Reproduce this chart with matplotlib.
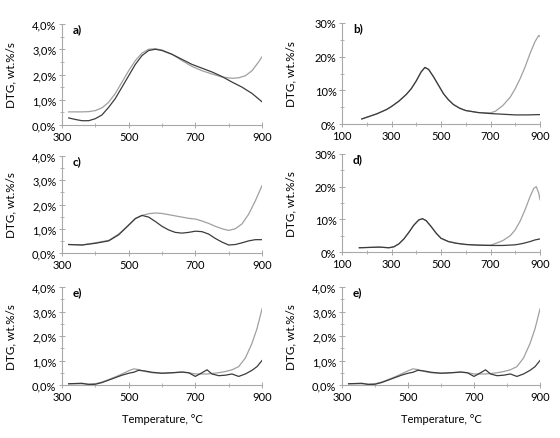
import matplotlib

matplotlib.use("Agg")
import matplotlib.pyplot as plt
from matplotlib.ticker import FixedLocator, FuncFormatter, MultipleLocator

# panel a)
A_T_DARK = [320, 340, 360, 380, 400, 420, 440, 460, 480, 500, 520, 540, 560, 580, 600,
            630, 660, 690, 720, 750, 780, 810, 840, 870, 900]
A_DARK = [0.28, 0.22, 0.17, 0.17, 0.25, 0.4, 0.7, 1.05, 1.5, 1.95, 2.4, 2.75, 2.95, 3.0, 2.95,
          2.8, 2.6, 2.4, 2.25, 2.1, 1.92, 1.7, 1.5, 1.25, 0.92]
A_T_LIGHT = [320, 340, 360, 380, 400, 420, 440, 460, 480, 500, 520, 540, 560, 580, 600,
             630, 660, 690, 720, 750, 780, 810, 830, 850, 870, 890, 900]
A_LIGHT = [0.52, 0.52, 0.52, 0.53, 0.57, 0.68, 0.9, 1.25, 1.7, 2.15, 2.55, 2.85, 3.0, 3.02, 2.97,
           2.8, 2.55, 2.32, 2.15, 2.02, 1.9, 1.85, 1.87, 1.95, 2.15, 2.5, 2.7]

# panel b)
B_T_DARK = [180, 200, 240, 280, 300, 330, 360, 380, 400, 420, 435, 450, 470, 490, 510,
            530, 550, 575, 600, 650, 700, 750, 800, 850, 900]
B_DARK = [1.5, 2.0, 3.0, 4.3, 5.2, 6.8, 8.8, 10.5, 12.8, 15.5, 16.8, 16.2, 14.0, 11.5, 9.0,
          7.2, 5.8, 4.7, 4.0, 3.4, 3.1, 2.9, 2.7, 2.7, 2.8]
B_T_LIGHT = [180, 200, 240, 280, 300, 330, 360, 380, 400, 420, 435, 450, 470, 490, 510,
             530, 550, 575, 600, 650, 700, 720, 750, 780, 800, 820, 840, 860, 880, 895, 900]
B_LIGHT = [1.5, 2.0, 3.0, 4.3, 5.2, 6.8, 8.8, 10.5, 12.8, 15.5, 16.8, 16.2, 14.0, 11.5, 9.0,
           7.2, 5.8, 4.7, 4.0, 3.4, 3.3, 3.8, 5.5, 8.0, 10.5, 13.5, 17.0, 21.0, 24.5, 26.3, 26.0]

# panel c)
C_T = [320, 360, 400, 440, 470, 500, 520, 540, 560, 580, 600, 620, 640, 660, 680,
       700, 720, 740, 760, 780, 800, 820, 840, 860, 880, 900]
C_DARK = [0.35, 0.33, 0.4, 0.5, 0.75, 1.15, 1.42, 1.55, 1.48, 1.3, 1.1, 0.95, 0.85, 0.82, 0.85,
          0.9, 0.88, 0.78, 0.6, 0.45, 0.33, 0.35, 0.42, 0.5, 0.55, 0.55]
C_LIGHT = [0.35, 0.33, 0.42, 0.52, 0.78, 1.15, 1.42, 1.55, 1.62, 1.65, 1.63, 1.58, 1.53, 1.48, 1.43,
           1.4, 1.32, 1.22, 1.1, 1.0, 0.93, 1.0, 1.2, 1.6, 2.15, 2.78]

# panel d)
D_T_DARK = [170, 210, 250, 290, 310, 330, 350, 370, 390, 410, 425, 440, 460, 480, 500,
            530, 560, 600, 650, 700, 750, 800, 830, 860, 880, 900]
D_DARK = [1.3, 1.4, 1.5, 1.3, 1.6, 2.5, 4.0, 6.0, 8.2, 9.8, 10.2, 9.6, 7.8, 5.8, 4.2,
          3.2, 2.7, 2.3, 2.1, 2.0, 2.0, 2.2, 2.6, 3.2, 3.7, 4.0]
D_T_LIGHT = [170, 210, 250, 290, 310, 330, 350, 370, 390, 410, 425, 440, 460, 480, 500,
             530, 560, 600, 650, 700, 720, 750, 780, 800, 820, 840, 860, 875, 885, 895, 900]
D_LIGHT = [1.3, 1.4, 1.5, 1.3, 1.6, 2.5, 4.0, 6.0, 8.2, 9.8, 10.2, 9.6, 7.8, 5.8, 4.2,
           3.2, 2.7, 2.3, 2.1, 2.1, 2.6, 3.5, 5.0, 6.8, 9.5, 13.0, 17.0, 19.5, 20.0, 18.0, 16.0]

# panels e)
E_T = [320, 340, 360, 380, 400, 420, 440, 460, 480, 500, 515, 530, 550, 570, 600,
       630, 660, 680, 700, 720, 735, 750, 770, 790, 810, 830, 850, 870, 885, 900]
E_DARK = [0.05, 0.06, 0.07, 0.02, 0.03, 0.1, 0.2, 0.3, 0.4, 0.48, 0.52, 0.6, 0.57, 0.52, 0.48,
          0.5, 0.53, 0.5, 0.35, 0.5, 0.62, 0.45, 0.38, 0.4, 0.45, 0.35, 0.45, 0.6, 0.75, 1.0]
E_LIGHT = [0.05, 0.05, 0.05, 0.04, 0.05, 0.12, 0.22, 0.33, 0.45, 0.58, 0.66, 0.63, 0.55, 0.5, 0.48,
           0.5, 0.52, 0.5, 0.45, 0.45, 0.45, 0.47, 0.5, 0.55, 0.62, 0.75, 1.1, 1.7, 2.3, 3.1]

NARROW_TICKS = [300, 500, 700, 900]
WIDE_TICKS = [100, 300, 500, 700, 900]

TEMP_LABEL = "Temperature, °C"
DTG_LABEL = "DTG, wt.%/s"

DARK = "#3c3c3c"
LIGHT = "#a0a0a0"
SPINE = "#a8a8a8"

plt.rcParams["font.family"] = ["Lato", "DejaVu Sans"]
plt.rcParams["font.size"] = 7.5

fig = plt.figure(figsize=(5.6, 4.39), dpi=100)


def fig_rect(left, top, right, bottom):
    w, h = 560.0, 439.0
    return [left / w, 1 - bottom / h, (right - left) / w, (bottom - top) / h]


def pct_comma(v, pos):
    return f"{v:.1f}".replace(".", ",") + "%"


def pct_int(v, pos):
    return f"{v:.0f}%"


def draw_panel(rect, label, t_dark, dark, t_light, light, ymax, wide, xlabel=False):
    ax = fig.add_axes(fig_rect(*rect))
    ax.plot(t_light, light, color=LIGHT, lw=0.9)
    ax.plot(t_dark, dark, color=DARK, lw=0.9)
    ticks = WIDE_TICKS if wide else NARROW_TICKS
    ax.set_xlim(ticks[0], ticks[-1])
    ax.set_ylim(0, ymax)
    for side in ("top", "right"):
        ax.spines[side].set_visible(False)
    for side in ("left", "bottom"):
        ax.spines[side].set_color(SPINE)
        ax.spines[side].set_linewidth(0.8)
    ax.xaxis.set_major_locator(FixedLocator(ticks))
    ax.xaxis.set_minor_locator(MultipleLocator(100))
    if wide:
        ax.yaxis.set_major_locator(MultipleLocator(10))
        ax.yaxis.set_minor_locator(MultipleLocator(5))
        ax.yaxis.set_major_formatter(FuncFormatter(pct_int))
    else:
        ax.yaxis.set_major_locator(MultipleLocator(1))
        ax.yaxis.set_minor_locator(MultipleLocator(0.5))
        ax.yaxis.set_major_formatter(FuncFormatter(pct_comma))
    ax.tick_params(which="major", direction="inout", length=4, width=0.7,
                   color=SPINE, labelsize=8, pad=2)
    ax.tick_params(which="minor", direction="inout", length=2.5, width=0.6, color=SPINE)
    ax.set_ylabel(DTG_LABEL, fontsize=8.5)
    ax.yaxis.set_label_coords(-0.23, 0.5)
    ax.text(0.055, 0.95, label, transform=ax.transAxes, fontsize=8.5,
            fontweight="bold", va="center", ha="left")
    if xlabel:
        ax.set_xlabel(TEMP_LABEL, fontsize=8, labelpad=8)
    return ax


draw_panel((62, 25, 262, 126), "a)", A_T_DARK, A_DARK, A_T_LIGHT, A_LIGHT, 4, False)
draw_panel((342, 24, 540, 125), "b)", B_T_DARK, B_DARK, B_T_LIGHT, B_LIGHT, 30, True)
draw_panel((62, 157, 262, 254), "c)", C_T, C_DARK, C_T, C_LIGHT, 4, False)
draw_panel((342, 155, 540, 253), "d)", D_T_DARK, D_DARK, D_T_LIGHT, D_LIGHT, 30, True)
draw_panel((62, 288, 262, 386), "e)", E_T, E_DARK, E_T, E_LIGHT, 4, False, xlabel=True)
draw_panel((342, 288, 540, 386), "e)", E_T, E_DARK, E_T, E_LIGHT, 4, False, xlabel=True)

fig.savefig("out.png", dpi=100)
